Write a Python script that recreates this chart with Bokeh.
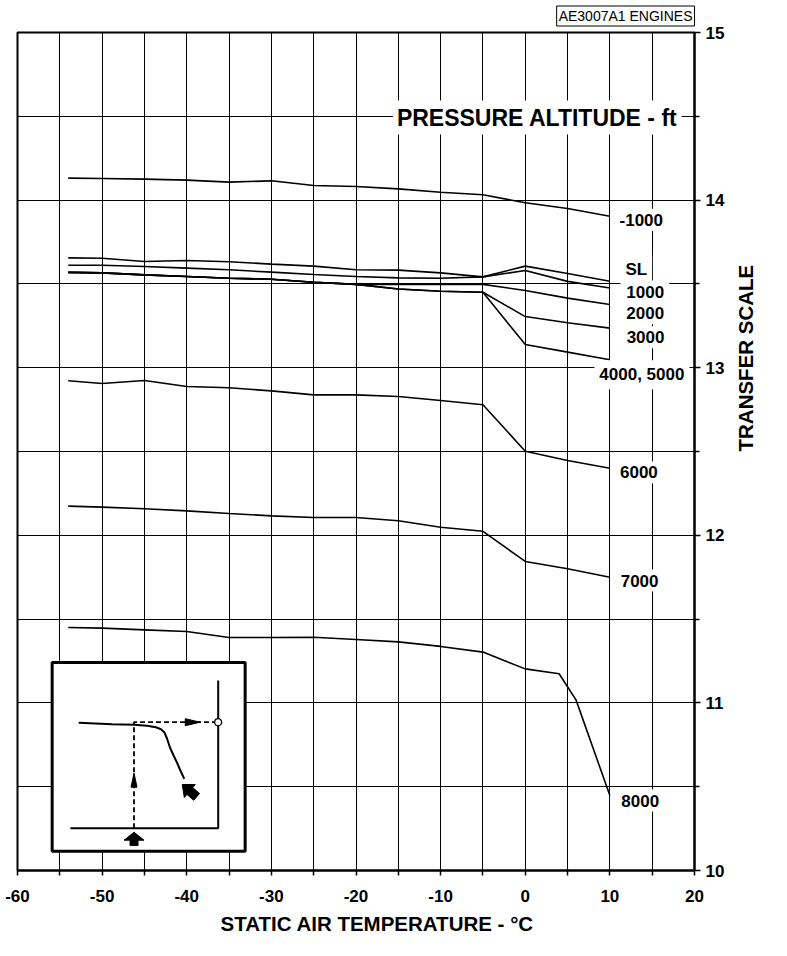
import math
from bokeh.plotting import figure
from bokeh.models import Range1d, FixedTicker, Label, Title
from bokeh.embed import file_html
from bokeh.resources import INLINE

# ---------------- data ----------------
temps = [-54, -50, -45, -40, -35, -30, -25, -20, -15, -10, -5, 0, 5, 10]

alt_minus1000 = [14.131, 14.129, 14.125, 14.119, 14.107, 14.115, 14.087, 14.081, 14.067, 14.047, 14.032, 13.984, 13.950, 13.904]
alt_sl        = [13.655, 13.653, 13.634, 13.640, 13.632, 13.618, 13.606, 13.584, 13.582, 13.566, 13.542, 13.606, 13.562, 13.516]
alt_1000      = [13.611, 13.611, 13.604, 13.594, 13.584, 13.570, 13.556, 13.544, 13.536, 13.534, 13.542, 13.580, 13.515, 13.476]
alt_2000      = [13.569, 13.566, 13.554, 13.544, 13.534, 13.528, 13.510, 13.497, 13.496, 13.497, 13.497, 13.461, 13.415, 13.377]
alt_3000      = [13.569, 13.566, 13.554, 13.544, 13.534, 13.528, 13.510, 13.497, 13.470, 13.456, 13.450, 13.305, 13.268, 13.236]
alt_4000_5000 = [13.569, 13.566, 13.554, 13.544, 13.534, 13.528, 13.510, 13.497, 13.470, 13.456, 13.450, 13.138, 13.093, 13.047]
alt_6000      = [12.922, 12.906, 12.924, 12.888, 12.880, 12.862, 12.838, 12.838, 12.828, 12.804, 12.779, 12.502, 12.446, 12.400]
alt_7000      = [12.174, 12.168, 12.158, 12.146, 12.130, 12.116, 12.106, 12.106, 12.087, 12.048, 12.024, 11.844, 11.800, 11.750]

temps_8000 = [-54, -50, -45, -40, -35, -30, -25, -20, -15, -10, -5, 0, 4, 6, 10]
alt_8000   = [11.450, 11.446, 11.436, 11.426, 11.390, 11.390, 11.392, 11.378, 11.364, 11.337, 11.303, 11.203, 11.174, 11.018, 10.447]

series = [alt_minus1000, alt_sl, alt_1000, alt_2000, alt_3000, alt_4000_5000, alt_6000, alt_7000]
curve_labels = ["-1000", "SL", "1000", "2000", "3000", "4000, 5000", "6000", "7000", "8000"]

x_ticks = [-60, -50, -40, -30, -20, -10, 0, 10, 20]
x_minor = [-55, -45, -35, -25, -15, -5, 5, 15]
y_ticks = [10, 11, 12, 13, 14, 15]
y_minor = [10.5, 11.5, 12.5, 13.5, 14.5]

x_title = "STATIC AIR TEMPERATURE - \u00b0C"
y_title = "TRANSFER SCALE"
legend_title = "PRESSURE ALTITUDE - ft"
engine_note = "AE3007A1 ENGINES"

# ---------------- layout ----------------
XMIN, XMAX, YMIN, YMAX = -60, 20, 10, 15
FRAME_L, FRAME_R, FRAME_T, FRAME_B = 17, 695, 32, 870   # canvas pixels
W, H = 771, 940

def dx(px):
    return XMIN + (px - FRAME_L) / (FRAME_R - FRAME_L) * (XMAX - XMIN)

def dy(py):
    return YMIN + (FRAME_B - py) / (FRAME_B - FRAME_T) * (YMAX - YMIN)

FONT = "Liberation Sans"

p = figure(width=W, height=H, x_range=Range1d(XMIN, XMAX), y_range=Range1d(YMIN, YMAX),
           output_backend="svg", toolbar_location=None, tools="",
           y_axis_location="right",
           min_border_left=FRAME_L, min_border_right=W - FRAME_R,
           min_border_top=FRAME_T, min_border_bottom=H - FRAME_B)
p.background_fill_color = "white"
p.border_fill_color = "white"
p.outline_line_color = "black"
p.outline_line_width = 2

# note box in the top-right corner
p.title.text = engine_note
p.title.align = "right"
p.title.text_font = FONT
p.title.text_font_size = "14px"
p.title.text_font_style = "normal"
p.title.text_color = "black"
p.title.background_fill_color = "white"
p.title.border_line_color = "black"
p.title.border_line_width = 1
p.title.padding = 2
p.title.standoff = 9
p.title.vertical_align = "top"

# axes
xa = p.xaxis[0]
xa.ticker = FixedTicker(ticks=x_ticks, minor_ticks=x_minor)
xa.major_label_overrides = {t: str(t) for t in x_ticks}
ya = p.yaxis[0]
ya.ticker = FixedTicker(ticks=y_ticks, minor_ticks=y_minor)
ya.major_label_overrides = {t: str(t) for t in y_ticks}
for ax in (xa, ya):
    ax.axis_line_width = 2
    ax.axis_line_color = "black"
    ax.major_tick_in = 0
    ax.minor_tick_in = 0
    ax.major_tick_line_width = 1.5
    ax.minor_tick_line_width = 1.5
    ax.major_tick_line_color = "black"
    ax.minor_tick_line_color = "black"
    ax.major_label_text_font = FONT
    ax.major_label_text_font_size = "17px"
    ax.major_label_text_font_style = "bold"
    ax.major_label_text_color = "black"
xa.major_tick_out = 5
xa.minor_tick_out = 5
xa.major_label_standoff = 14
ya.major_tick_out = 6
ya.minor_tick_out = 5
ya.major_label_standoff = 5

ya.axis_label = y_title
ya.axis_label_orientation = math.pi / 2
ya.axis_label_text_font = FONT
ya.axis_label_text_font_size = "20.5px"
ya.axis_label_text_font_style = "bold"
ya.axis_label_text_color = "black"
ya.axis_label_text_line_height = 1.0
ya.axis_label_standoff = 18

p.add_layout(Title(text=x_title, align="left", offset=203, text_font=FONT,
                   text_font_size="20.5px", text_font_style="bold", text_color="black",
                   text_line_height=1.0, standoff=10, vertical_align="bottom"), "below")

# grid
p.xgrid.ticker = FixedTicker(ticks=x_minor + [-50, -40, -30, -20, -10, 0, 10])
p.ygrid.ticker = FixedTicker(ticks=y_minor + [11, 12, 13, 14])
for g in (p.xgrid, p.ygrid):
    g.grid_line_color = "black"
    g.grid_line_width = 1
    g.grid_line_alpha = 1

# curves
for vals in series:
    p.line(temps, vals, line_color="black", line_width=1.6)
p.line(temps_8000, alt_8000, line_color="black", line_width=1.6)

# curve labels (canvas pixel positions)
label_pos = [(641.7, 219.3), (636.7, 269), (645.7, 291), (645.7, 312.7), (646, 336.7),
             (642.3, 374.3), (639.3, 471.7), (640, 580), (640.7, 800)]
for txt, (lx, ly) in zip(curve_labels, label_pos):
    p.add_layout(Label(x=dx(lx), y=dy(ly), text=txt, text_font=FONT, text_font_size="17px",
                       text_font_style="bold", text_color="black", text_align="center",
                       text_baseline="middle", background_fill_color="white", padding=5))

p.add_layout(Label(x=dx(537.5), y=dy(117), text=legend_title, text_font=FONT, text_font_size="23px",
                   text_font_style="bold", text_color="black", text_align="center",
                   text_baseline="middle", background_fill_color="white", padding=4))

# ---------------- inset (schematic) ----------------
BOX_L, BOX_T, BOX_R, BOX_B = 51.7, 662, 245, 850.7

def ix(u):
    return dx(BOX_L + u)

def iy(v):
    return dy(BOX_T + v)

p.quad(left=dx(BOX_L), right=dx(BOX_R), bottom=dy(BOX_B), top=dy(BOX_T),
       fill_color="white", line_color="black", line_width=3)
p.line([ix(18.3), ix(166.3), ix(166.3)], [iy(165.7), iy(165.7), iy(18)], line_color="black", line_width=2)
p.line([ix(82), ix(82), ix(166.3)], [iy(165.7), iy(59.7), iy(59.7)], line_color="black",
       line_width=1.8, line_dash="5 3")
p.patch([ix(82), ix(79), ix(85)], [iy(110.7), iy(124.7), iy(124.7)], color="black")
p.patch([ix(148.3), ix(133.3), ix(133.3)], [iy(59.7), iy(56.2), iy(63.2)], color="black")
cu = [26.6, 60, 82, 95, 104, 109, 112.5, 115, 118, 121.6, 125, 128, 132.3]
cv = [60.3, 61.7, 62.3, 63.3, 64.7, 66.7, 70, 76, 85, 93, 100, 107, 116.3]
p.line([ix(u) for u in cu], [iy(v) for v in cv], line_color="black", line_width=2)
p.scatter([ix(166.3)], [iy(59.7)], marker="circle", size=7, fill_color="white",
          line_color="black", line_width=1.2)
au = [130.3, 143.4, 140.8, 147.6, 141.8, 135.0, 132.4]
av = [122.0, 122.0, 125.1, 131.0, 137.8, 131.9, 135.0]
p.patch([ix(u) for u in au], [iy(v) for v in av], color="black")
bu = [82, 92, 86, 86, 78, 78, 72]
bv = [169.7, 177.7, 177.7, 183, 183, 177.7, 177.7]
p.patch([ix(u) for u in bu], [iy(v) for v in bv], color="black")

open("out.html", "w").write(file_html(p, INLINE))
